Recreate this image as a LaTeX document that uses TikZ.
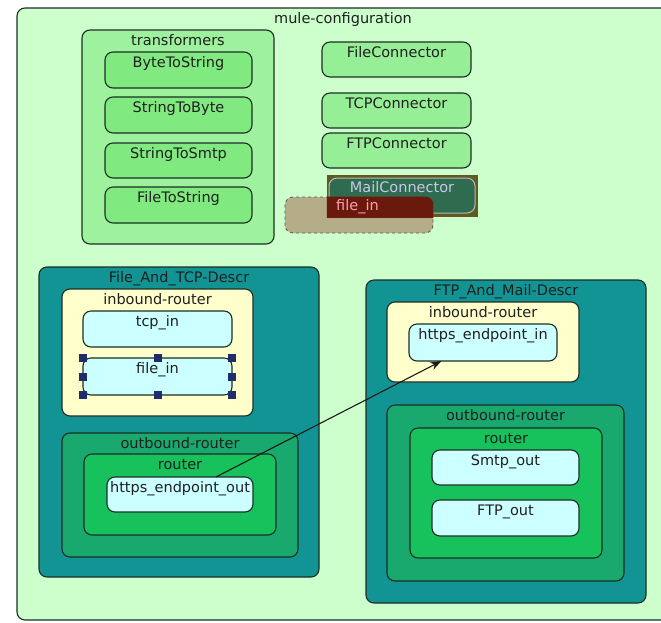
\documentclass[tikz,border=0pt]{standalone}
\usepackage{fontspec}
\setmainfont{DejaVu Sans}
\usetikzlibrary{arrows.meta,fit}

\definecolor{edge}{HTML}{1C2E24}
\definecolor{cfgbg}{HTML}{CCFFCC}
\definecolor{trbg}{HTML}{9EF29E}
\definecolor{trin}{HTML}{80EA80}
\definecolor{conbg}{HTML}{96EF96}
\definecolor{descr}{HTML}{139494}
\definecolor{inrt}{HTML}{FFFFCC}
\definecolor{outrt}{HTML}{19A96E}
\definecolor{rtr}{HTML}{17C15C}
\definecolor{endp}{HTML}{CCFFFF}
\definecolor{olivebg}{HTML}{5E5A22}
\definecolor{mailgr}{HTML}{2E6B4F}
\definecolor{mailtx}{HTML}{C8C8EA}
\definecolor{ghostbg}{HTML}{B5AD88}
\definecolor{overlap}{HTML}{6A1A0C}
\definecolor{ghosttx}{HTML}{FF9CB0}
\definecolor{handlec}{HTML}{1F2D6A}

\tikzset{
  box/.style={draw=edge, line width=1.1pt, rounded corners=8pt, inner sep=0pt, outer sep=0pt},
  lbl/.style={anchor=base, inner sep=0pt, text=black!88, font=\fontsize{14.5}{17}\selectfont},
  handle/.style={fill=handlec, minimum size=8pt, inner sep=0pt},
}

% box from (x1,y1) to (x2,y2) with its title near the top
\newcommand\umlbox[7]{%
  \node[box,#6,fit={(#2,#3) (#4,#5)}] (#1) {};
  \node[lbl] (#1-lbl) at ([yshift=-15.5pt]#1.north) {#7};}

\begin{document}
\begin{tikzpicture}[x=1pt,y=-1pt]
\useasboundingbox[fill=white] (0,0) rectangle (661,622);

\umlbox{cfg}{17}{8}{669}{620}{fill=cfgbg}{mule-configuration}

% transformers
\umlbox{trf}{82}{30}{274}{244}{fill=trbg}{transformers}
\umlbox{b2s}{105}{52}{252}{88}{fill=trin}{ByteToString}
\umlbox{s2b}{105}{97}{252}{133}{fill=trin}{StringToByte}
\umlbox{s2m}{105}{143}{252}{178}{fill=trin}{StringToSmtp}
\umlbox{f2s}{105}{187}{252}{223}{fill=trin}{FileToString}

% connectors
\umlbox{fcon}{322}{42}{471}{77}{fill=conbg}{FileConnector}
\umlbox{tcon}{322}{93}{471}{128}{fill=conbg}{TCPConnector}
\umlbox{ftcon}{322}{133}{471}{168}{fill=conbg}{FTPConnector}

% mail connector with a dragged endpoint over it
\node[fill=olivebg, inner sep=0pt, fit={(327,175) (478,217)}] (mailbg) {};
\node[draw=gray!55, line width=1pt, fill=mailgr, rounded corners=8pt, inner sep=0pt, fit={(329,178) (475,213)}] (mail) {};
\node[draw=black!65, dashed, line width=0.8pt, fill=ghostbg, rounded corners=8pt, inner sep=0pt, fit={(285,197) (433,233)}] (ghost) {};
\begin{scope}
  \clip (mailbg.south west) rectangle (mailbg.north east);
  \fill[overlap, rounded corners=8pt] (ghost.south west) rectangle (ghost.north east);
\end{scope}
\node[lbl, text=mailtx] (mail-lbl) at ([yshift=-15pt]mail.north) {MailConnector};
\node[lbl, anchor=base west, text=ghosttx] (ghost-lbl) at (336,210) {file\_in};

% File_And_TCP-Descr
\umlbox{ftd}{39}{267}{319}{577}{fill=descr}{File\_And\_TCP-Descr}
\umlbox{inl}{62}{289}{253}{416}{fill=inrt}{inbound-router}
\umlbox{tcpin}{83}{311}{232}{347}{fill=endp}{tcp\_in}
\umlbox{filein}{83}{358}{232}{395}{fill=endp}{file\_in}
\umlbox{outl}{62}{433}{298}{557}{fill=outrt}{outbound-router}
\umlbox{rtl}{84}{454}{276}{535}{fill=rtr}{router}
\umlbox{epout}{107}{477}{253}{512}{fill=endp}{https\_endpoint\_out}

% selection handles
\foreach \a [count=\i] in {north west,north,north east,east,south east,south,south west,west}
  \node[handle] (hd\i) at (filein.\a) {};

% FTP_And_Mail-Descr
\umlbox{fmd}{366}{280}{646}{603}{fill=descr}{FTP\_And\_Mail-Descr}
\umlbox{inr}{387}{302}{579}{382}{fill=inrt}{inbound-router}
\umlbox{epin}{409}{324}{557}{361}{fill=endp}{https\_endpoint\_in}
\umlbox{outr}{387}{405}{624}{581}{fill=outrt}{outbound-router}
\umlbox{rtr}{410}{428}{602}{558}{fill=rtr}{router}
\umlbox{smtp}{432}{450}{579}{485}{fill=endp}{Smtp\_out}
\umlbox{ftpo}{432}{500}{579}{536}{fill=endp}{FTP\_out}

% routing arrow
\draw[line width=1.1pt, draw=black!90, -{Stealth[length=11pt,width=8pt]}] (epout.26.6) -- (epin.204.8);
\end{tikzpicture}
\end{document}
